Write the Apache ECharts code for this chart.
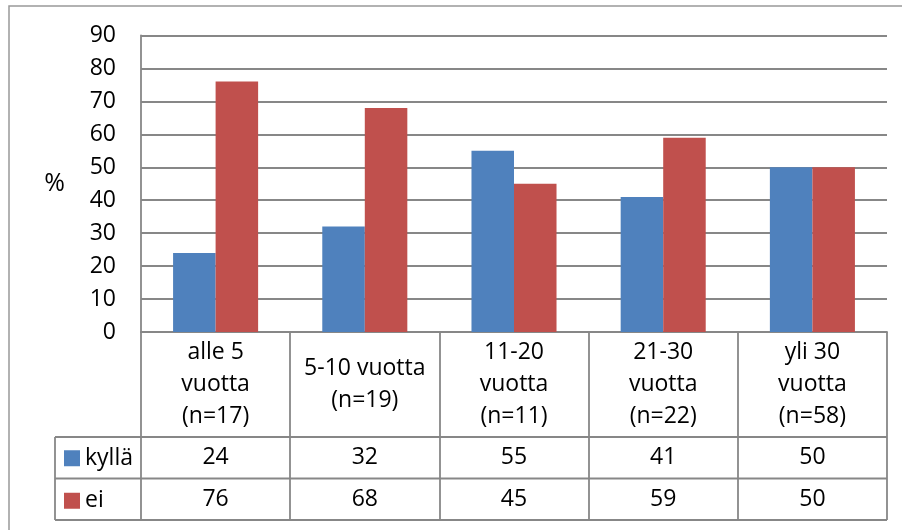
<!DOCTYPE html>
<html>
<head>
<meta charset="utf-8">
<script src="https://cdn.jsdelivr.net/npm/echarts@6/dist/echarts.min.js"></script>
<style>
  html, body { margin: 0; padding: 0; background: #fff; }
  #chart { width: 902px; height: 530px; }
</style>
</head>
<body>
<div id="chart"></div>
<script>
// Share of answers per work-experience group (%)
const categories = [
  'alle 5\nvuotta\n(n=17)',
  '5-10 vuotta\n(n=19)',
  '11-20\nvuotta\n(n=11)',
  '21-30\nvuotta\n(n=22)',
  'yli 30\nvuotta\n(n=58)'
];
const seriesNames = ['kyllä', 'ei'];
const kylla = [24, 32, 55, 41, 50];
const ei = [76, 68, 45, 59, 50];
const yTicks = { min: 0, max: 90, interval: 10 };

const FONT = '"Open Sans", "Noto Sans", sans-serif';
const FS = 23;
const LINE = '#878787';
const BLUE = '#4F81BD';
const RED = '#C0504D';

// plot area and data-table geometry
const W = 902, H = 530;
const grid = { left: 141, right: 15, top: 35.5, bottom: 198 };
const axisY = H - grid.bottom;          // y of the zero line / table top
const catRowH = 105;                     // category-name row
const valRowH = 41.5;                    // each value row
const tableLeft = 55;
const plotRight = W - grid.right;

const row1Mid = catRowH + valRowH / 2;           // offset of kyllä row centre
const row2Mid = catRowH + valRowH * 1.5;         // offset of ei row centre
const tableBottom = axisY + catRowH + 2 * valRowH;

const chart = echarts.init(document.getElementById('chart'), null, { renderer: 'canvas' });

const valueAxis = (data, margin) => ({
  type: 'category',
  data: data.map(String),
  position: 'bottom',
  gridIndex: 0,
  axisLine: { show: false },
  axisTick: { show: false },
  splitLine: { show: false },
  axisLabel: {
    interval: 0, margin: margin, verticalAlign: 'middle',
    fontFamily: FONT, fontSize: FS, color: '#000'
  }
});

const rule = { stroke: LINE, lineWidth: 1.8 };

chart.setOption({
  animation: false,
  backgroundColor: '#fff',
  textStyle: { fontFamily: FONT },
  grid: { left: grid.left, right: grid.right, top: grid.top, bottom: grid.bottom, containLabel: false },
  legend: {
    orient: 'vertical',
    left: 64,
    top: axisY + row1Mid - 11,
    padding: 0,
    itemWidth: 16,
    itemHeight: 16,
    itemGap: valRowH - 22,
    icon: 'rect',
    selectedMode: false,
    textStyle: { fontFamily: FONT, fontSize: FS, lineHeight: 22, color: '#000' },
    data: seriesNames
  },
  xAxis: [
    {
      type: 'category',
      data: categories,
      boundaryGap: true,
      axisLine: { show: true, lineStyle: { color: LINE, width: 1.8 } },
      axisTick: { show: true, length: tableBottom - axisY, lineStyle: { color: LINE, width: 1.8 } },
      axisLabel: {
        interval: 0, margin: catRowH / 2, verticalAlign: 'middle',
        fontFamily: FONT, fontSize: FS, lineHeight: 32, color: '#000', align: 'center'
      }
    },
    valueAxis(kylla, row1Mid),
    valueAxis(ei, row2Mid)
  ],
  yAxis: {
    type: 'value',
    min: yTicks.min, max: yTicks.max, interval: yTicks.interval,
    name: '%',
    nameLocation: 'middle',
    nameRotate: 0,
    nameGap: 76,
    nameTextStyle: { fontFamily: FONT, fontSize: 25, color: '#000' },
    axisLine: { show: true, lineStyle: { color: LINE, width: 1.8 } },
    axisTick: { show: false },
    axisLabel: { margin: 25, fontFamily: FONT, fontSize: FS, color: '#000' },
    splitLine: { show: true, lineStyle: { color: LINE, width: 1.8 } }
  },
  series: [
    {
      name: seriesNames[0], type: 'bar', data: kylla,
      barGap: '0%', barCategoryGap: '43%',
      itemStyle: { color: BLUE }
    },
    {
      name: seriesNames[1], type: 'bar', data: ei,
      barGap: '0%', barCategoryGap: '43%',
      itemStyle: { color: RED }
    }
  ],
  graphic: [
    // outer chart frame
    { type: 'rect', shape: { x: 9, y: 6, width: W, height: H }, style: { fill: 'none', stroke: '#999', lineWidth: 1.5 }, silent: true },
    // data-table horizontal rules
    { type: 'line', shape: { x1: tableLeft, y1: axisY + catRowH, x2: plotRight, y2: axisY + catRowH }, style: rule },
    { type: 'line', shape: { x1: tableLeft, y1: axisY + catRowH + valRowH, x2: plotRight, y2: axisY + catRowH + valRowH }, style: rule },
    { type: 'line', shape: { x1: tableLeft, y1: tableBottom, x2: plotRight, y2: tableBottom }, style: rule },
    // data-table left edge of the legend column
    { type: 'line', shape: { x1: tableLeft, y1: axisY + catRowH, x2: tableLeft, y2: tableBottom }, style: rule }
  ]
});
</script>
</body>
</html>
